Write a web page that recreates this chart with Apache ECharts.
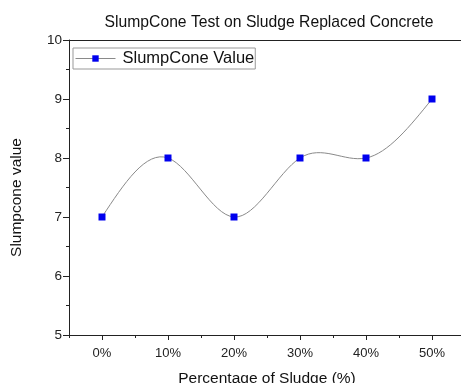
<!DOCTYPE html>
<html><head><meta charset="utf-8">
<script src="https://cdn.jsdelivr.net/npm/echarts@6/dist/echarts.min.js"></script>
<style>html,body{margin:0;padding:0;background:#fff}#c{width:461px;height:383px}</style>
</head><body><div id="c"></div>
<script>
var categories = ['0%', '10%', '20%', '30%', '40%', '50%'];
var slumpValues = [7, 8, 7, 8, 8, 9];
var yTicks = [5, 6, 7, 8, 9, 10];
var seriesName = 'SlumpCone Value';

var chart = echarts.init(document.getElementById('c'), null, {renderer: 'canvas'});
var font = 'Liberation Sans, Arial, sans-serif';
var axisColor = '#222';
var lineColor = '#8a8a8a';

// natural cubic spline through pixel points (like Origin "Spline" connect)
function splineSegments(pts) {
  var n = pts.length, M = new Array(n).fill(0);
  if (n > 2) {
    var a = [], b = [], c = [], d = [];
    for (var i = 1; i < n - 1; i++) {
      var h0 = pts[i][0] - pts[i - 1][0], h1 = pts[i + 1][0] - pts[i][0];
      a.push(h0); b.push(2 * (h0 + h1)); c.push(h1);
      d.push(6 * ((pts[i + 1][1] - pts[i][1]) / h1 - (pts[i][1] - pts[i - 1][1]) / h0));
    }
    var m = b.length;
    for (var k = 1; k < m; k++) {
      var w = a[k] / b[k - 1];
      b[k] -= w * c[k - 1]; d[k] -= w * d[k - 1];
    }
    var sol = new Array(m);
    sol[m - 1] = d[m - 1] / b[m - 1];
    for (var k2 = m - 2; k2 >= 0; k2--) sol[k2] = (d[k2] - c[k2] * sol[k2 + 1]) / b[k2];
    for (var j = 0; j < m; j++) M[j + 1] = sol[j];
  }
  var segs = [];
  for (var s = 0; s < n - 1; s++) {
    var p0 = pts[s], p1 = pts[s + 1], h = p1[0] - p0[0];
    var slope = (p1[1] - p0[1]) / h;
    var d0 = slope - h * (2 * M[s] + M[s + 1]) / 6;
    var d1 = slope + h * (M[s] + 2 * M[s + 1]) / 6;
    segs.push({x1: p0[0], y1: p0[1], x2: p1[0], y2: p1[1],
      cpx1: p0[0] + h / 3, cpy1: p0[1] + d0 * h / 3,
      cpx2: p1[0] - h / 3, cpy2: p1[1] - d1 * h / 3});
  }
  return segs;
}

chart.setOption({
  animation: false,
  backgroundColor: '#fff',
  textStyle: {fontFamily: font},
  title: {
    text: 'SlumpCone Test on Sludge Replaced Concrete',
    left: 264, top: 10, textAlign: 'center',
    textStyle: {fontFamily: font, fontSize: 15.7, fontWeight: 'normal', color: '#111'}
  },
  grid: {left: 69, right: -4, top: 40, bottom: 48, containLabel: false, outerBoundsMode: 'none', show: false},
  legend: {
    left: 73, top: 48,
    data: [{name: seriesName}],
    itemWidth: 40, itemHeight: 8, itemGap: 0,
    borderColor: '#999', borderWidth: 1, borderRadius: 0,
    padding: [2, 1, 2, 2],
    lineStyle: {color: lineColor, width: 1, opacity: 1},
    textStyle: {fontFamily: font, fontSize: 16.5, color: '#111', padding: [0, 0, 0, 2]}
  },
  xAxis: [{
    type: 'category', data: categories, boundaryGap: true,
    position: 'bottom',
    axisLine: {show: true, onZero: false, lineStyle: {color: axisColor, width: 1}},
    axisTick: {show: true, alignWithLabel: true, inside: false, length: 5, lineStyle: {color: axisColor}},
    axisLabel: {fontFamily: font, fontSize: 13, color: '#222', margin: 12},
    splitLine: {show: false},
    name: 'Percentage of Sludge (%)', nameLocation: 'middle', nameGap: 36,
    nameTextStyle: {fontFamily: font, fontSize: 15.5, color: '#111'}
  }, {
    type: 'category', data: categories, boundaryGap: true,
    position: 'bottom',
    axisLine: {show: false},
    axisTick: {show: true, alignWithLabel: false, inside: false, length: 3, lineStyle: {color: axisColor}},
    axisLabel: {show: false},
    splitLine: {show: false}
  }, {
    type: 'category', data: categories, boundaryGap: true,
    position: 'top',
    axisLine: {show: true, lineStyle: {color: axisColor, width: 1}},
    axisTick: {show: false}, axisLabel: {show: false}, splitLine: {show: false}
  }],
  yAxis: {
    type: 'value', min: yTicks[0], max: yTicks[yTicks.length - 1], interval: 1,
    axisLine: {show: true, onZero: false, lineStyle: {color: axisColor, width: 1}},
    axisTick: {show: true, inside: false, length: 6, lineStyle: {color: axisColor}},
    minorTick: {show: true, splitNumber: 2, length: 3, lineStyle: {color: axisColor}},
    axisLabel: {fontFamily: font, fontSize: 13.5, color: '#222', margin: 7},
    splitLine: {show: false},
    name: 'Slumpcone value', nameLocation: 'middle', nameGap: 44, nameRotate: 90,
    nameTextStyle: {fontFamily: font, fontSize: 15.5, color: '#111', padding: [0, 0, 0, -20]}
  },
  series: [{
    type: 'custom', xAxisIndex: 0, silent: true, z: 2,
    data: slumpValues.map(function (v, i) { return [i, v]; }),
    renderItem: function (params, api) {
      var i = params.dataIndex;
      if (i >= slumpValues.length - 1) return null;
      var pts = slumpValues.map(function (v, k) { return api.coord([k, v]); });
      var seg = splineSegments(pts)[i];
      return {type: 'bezierCurve', shape: seg,
        style: {stroke: lineColor, lineWidth: 1, fill: null}};
    }
  }, {
    name: seriesName, type: 'line', data: slumpValues, xAxisIndex: 0,
    symbol: 'rect', symbolSize: 7,
    itemStyle: {color: '#0000ee', borderWidth: 0},
    lineStyle: {color: lineColor, width: 1, opacity: 0},
    z: 3
  }]
});
</script></body></html>
